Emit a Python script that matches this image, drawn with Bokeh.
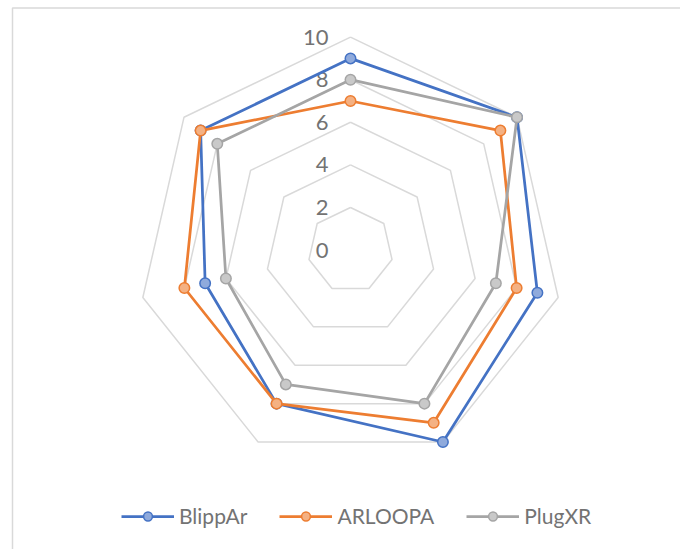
import numpy as np
from bokeh.plotting import figure
from bokeh.models import Range1d, ColumnDataSource, Legend, LegendItem
from bokeh.core.properties import value
from bokeh.embed import file_html
from bokeh.resources import INLINE

# Radar data: seven criteria, scored 0-10, clockwise from the top spoke
series_names = ["BlippAr", "ARLOOPA", "PlugXR"]
blippar = [9, 10, 9, 10, 8, 7, 9]
arloopa = [7, 9, 8, 9, 8, 8, 9]
plugxr = [8, 10, 7, 8, 7, 6, 8]
ring_values = [2, 4, 6, 8, 10]
tick_labels = ["0", "2", "4", "6", "8", "10"]

line_colors = ["#4472C4", "#ED7D31", "#A5A5A5"]
marker_fills = ["#8FAADC", "#F4B183", "#C9C9C9"]
grid_color = "#D9D9D9"
text_color = "#737373"
FONT = "Lato"

n_axes = len(blippar)
theta = 2 * np.pi * np.arange(n_axes) / n_axes

def polar(vals):
    r = np.asarray(vals, dtype=float)
    return r * np.sin(theta), r * np.cos(theta)

# pixels per score unit, and the chart centre in the canvas
W, H = 680, 549
scale = 21.3
cx, cy = 350.0, 249.6

p = figure(width=W, height=H, output_backend="svg", toolbar_location=None,
           x_range=Range1d(-cx / scale, (W - cx) / scale),
           y_range=Range1d(-(H - cy) / scale, cy / scale),
           min_border=0, min_border_left=0, min_border_right=0,
           min_border_top=0, min_border_bottom=0)
p.axis.visible = False
p.grid.visible = False
p.outline_line_color = None
p.background_fill_color = "white"
p.border_fill_color = "white"

# chart area frame (left and top edges)
x0, x1 = p.x_range.start, p.x_range.end
y0, y1 = p.y_range.start, p.y_range.end
fl = x0 + 12 / scale
ft = y1 - 7.5 / scale
p.line([fl, fl, x1 + 1], [y0 - 1, ft, ft], line_color=grid_color, line_width=1.5)

# heptagonal grid rings
ring_xs, ring_ys = [], []
for rv in ring_values:
    gx, gy = polar([rv] * n_axes)
    ring_xs.append(list(gx) + [gx[0]])
    ring_ys.append(list(gy) + [gy[0]])
p.multi_line(ring_xs, ring_ys, line_color=grid_color, line_width=1.5)

# value labels along the top spoke
lab_src = ColumnDataSource(dict(x=[0.0] * len(tick_labels),
                                y=[float(t) for t in tick_labels],
                                text=tick_labels))
p.text(x="x", y="y", text="text", source=lab_src, x_offset=-22,
       text_align="right", text_baseline="middle",
       text_font=value(FONT), text_font_size="22px", text_color=text_color)

# series: closed outline plus markers
items = []
for name, vals, lc, mf in zip(series_names, [blippar, arloopa, plugxr],
                              line_colors, marker_fills):
    sx, sy = polar(vals)
    lr = p.line(list(sx) + [sx[0]], list(sy) + [sy[0]], line_color=lc,
                line_width=2.75, line_join="round")
    mr = p.scatter(sx, sy, size=10.5, marker="circle", fill_color=mf,
                   line_color=lc, line_width=1.5)
    items.append(LegendItem(label=name, renderers=[lr, mr]))

legend = Legend(items=items, orientation="horizontal", location=(121, 21),
                glyph_width=53, glyph_height=22, label_standoff=5, spacing=32,
                padding=0, margin=0, border_line_color=None,
                background_fill_alpha=0,
                label_text_font=FONT, label_text_font_size="21px",
                label_text_color=text_color)
p.add_layout(legend, "center")

open("out.html", "w").write(file_html(p, INLINE))
